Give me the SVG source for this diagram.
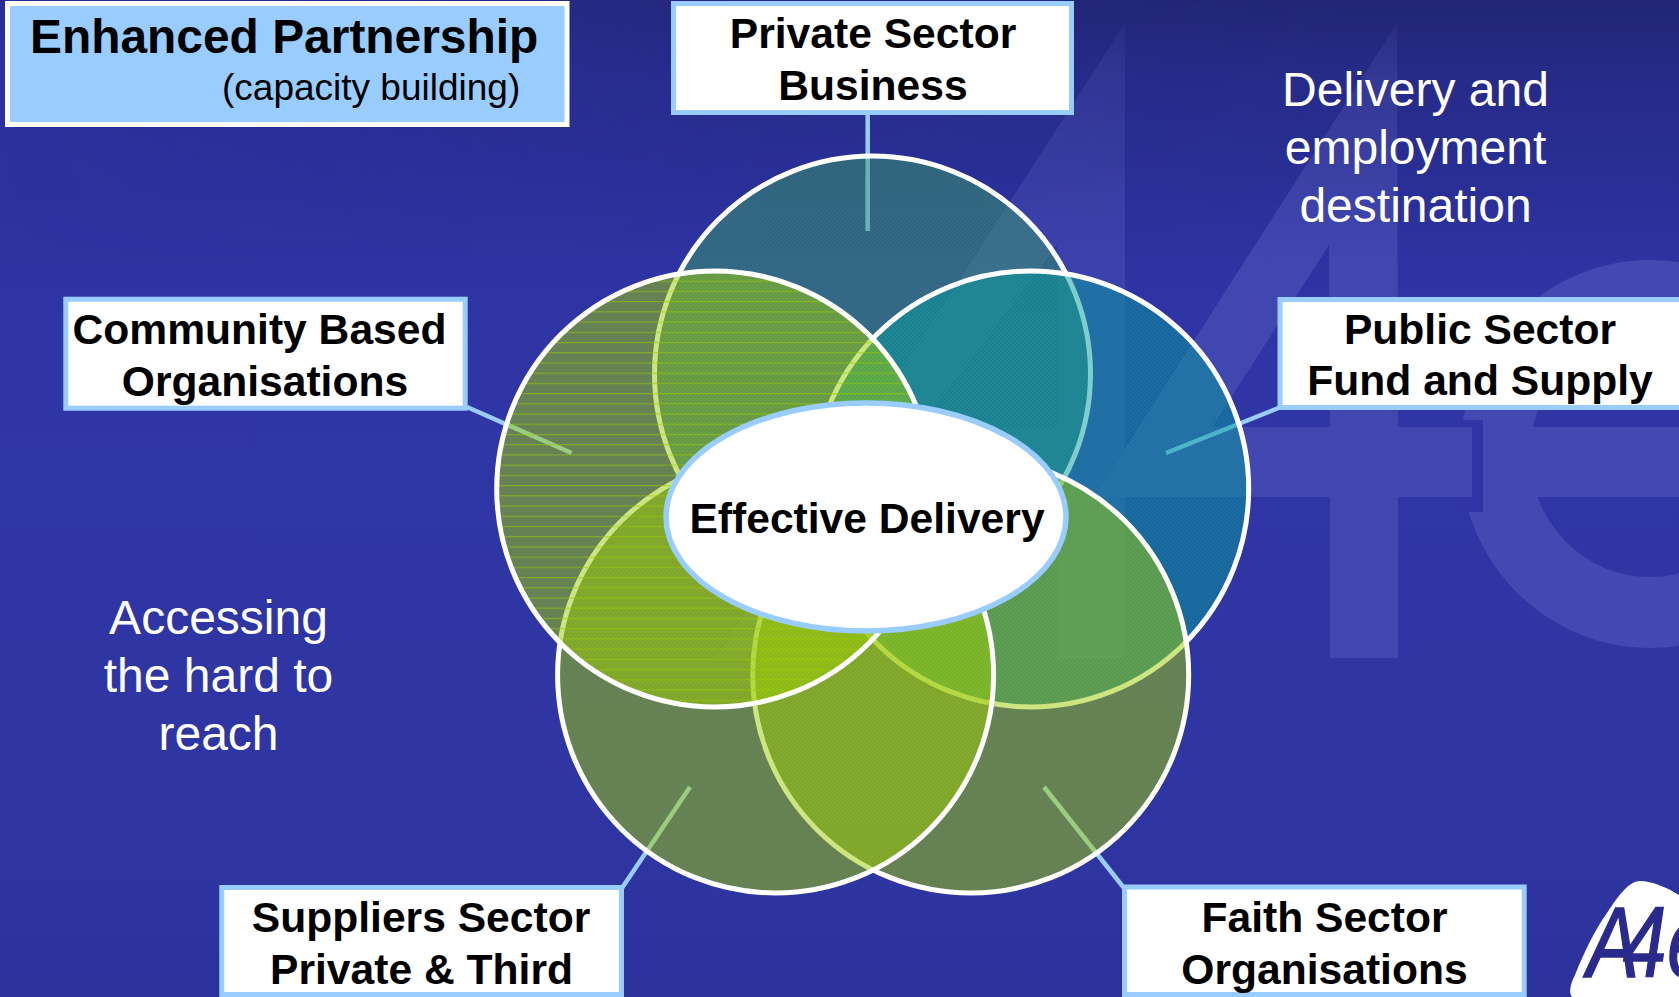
<svg xmlns="http://www.w3.org/2000/svg" width="1679" height="997" viewBox="0 0 1679 997">
<style>
text{font-family:"Liberation Sans",Arial,sans-serif}
.lb{font-size:42.6px;font-weight:700;fill:#000;text-anchor:middle}
.w{font-size:48px;fill:#fff;text-anchor:middle}
.box{fill:#fff;stroke:#99ccff;stroke-width:5}
.c{stroke:#fff;stroke-width:5}
.wm{fill:#4349b2}
#connectors line{stroke:#99ccff;stroke-width:4.5}
</style>
<defs>
<linearGradient id="bg" x1="0" y1="0" x2="0" y2="1">
<stop offset="0" stop-color="#2a2f98"/><stop offset=".12" stop-color="#2b309c"/><stop offset=".35" stop-color="#2f35a5"/><stop offset=".8" stop-color="#2f36a3"/><stop offset="1" stop-color="#2c329c"/>
</linearGradient>
<linearGradient id="dark" x1="0" y1="0" x2="0" y2="1">
<stop offset="0" stop-color="#20246e" stop-opacity=".85"/><stop offset=".3" stop-color="#20246e" stop-opacity=".4"/><stop offset="1" stop-color="#20246e" stop-opacity="0"/>
</linearGradient>
<linearGradient id="fadeX" x1="0" y1="0" x2="1" y2="0">
<stop offset="0" stop-color="#fff" stop-opacity="0"/><stop offset=".45" stop-color="#fff" stop-opacity=".8"/><stop offset=".8" stop-color="#fff"/>
</linearGradient>
<mask id="fm"><rect x="0" y="0" width="1679" height="260" fill="url(#fadeX)"/></mask>
<pattern id="stripes" patternUnits="userSpaceOnUse" x="0" y="382.8" width="20" height="10.22">
<rect width="20" height="10.22" fill="#99cc00" fill-opacity=".5"/>
<rect width="20" height="1.2" fill="#99cc00" fill-opacity=".55"/>
</pattern>
<pattern id="dith" patternUnits="userSpaceOnUse" width="4" height="4">
<rect width="2" height="2" fill="#fff" fill-opacity=".025"/>
<rect x="2" y="2" width="2" height="2" fill="#fff" fill-opacity=".025"/>
</pattern>
<filter id="soft" x="-5%" y="-5%" width="110%" height="110%"><feGaussianBlur stdDeviation=".7"/></filter>
</defs>
<rect width="1679" height="997" fill="url(#bg)"/>
<g id="watermark">
<path class="wm" opacity=".7" fill-rule="evenodd" d="M1125 23V658H1057V497H837L745 658H716ZM1057 245L920 427H1057Z"/>
<path class="wm" fill-rule="evenodd" d="M1650 260A190 194 0 1 0 1650 648A190 194 0 1 0 1650 260ZM1650 331A120 123 0 1 1 1650 577A120 123 0 1 1 1650 331Z"/>
<rect class="wm" x="1483" y="427" width="196" height="70"/>
<rect x="1455" y="420" width="28" height="92" fill="#2f35a4"/>
<path class="wm" opacity=".92" fill-rule="evenodd" d="M1397 23L1398 427H1472V497H1398V658H1330V497H1094ZM1329 245L1212 427H1330Z"/>
</g>
<rect width="1679" height="260" fill="url(#dark)" mask="url(#fm)"/>
<g id="connectors">
<line x1="867.7" y1="113" x2="867.7" y2="231"/>
<line x1="467" y1="407" x2="571.5" y2="453"/>
<line x1="1281" y1="407" x2="1166" y2="453"/>
<line x1="622" y1="888" x2="690" y2="787"/>
<line x1="1124" y1="888" x2="1044" y2="787"/>
</g>
<g id="circle-top"><circle class="c" cx="872.5" cy="374" r="218" fill="#339966" fill-opacity=".5"/><circle cx="872.5" cy="374" r="215" fill="url(#dith)"/></g>
<g id="circle-right"><circle class="c" cx="1030.7" cy="489" r="218" fill="#009999" fill-opacity=".5"/><circle cx="1030.7" cy="489" r="215" fill="url(#dith)"/></g>
<g id="circle-bottom-right"><circle class="c" cx="970.7" cy="675" r="218" fill="#99cc00" fill-opacity=".5"/><circle cx="970.7" cy="675" r="215" fill="url(#dith)"/></g>
<g id="circle-bottom-left"><circle class="c" cx="775.6" cy="675" r="218" fill="#99cc00" fill-opacity=".5"/><circle cx="775.6" cy="675" r="215" fill="url(#dith)"/></g>
<g id="circle-left"><circle class="c" cx="714.7" cy="489" r="218" fill="url(#stripes)"/><circle cx="714.7" cy="489" r="215" fill="url(#dith)"/></g>
<g id="effective-delivery">
<ellipse cx="866" cy="517" rx="200" ry="114" fill="#fff" stroke="#99ccff" stroke-width="5.5"/>
<text class="lb" x="867" y="532.5">Effective Delivery</text>
</g>
<g id="enhanced-partnership">
<rect x="7.5" y="3.5" width="559.5" height="121" fill="#99ccff" stroke="#fff" stroke-width="5"/>
<text x="30" y="52.7" font-size="47.9" font-weight="700" fill="#000">Enhanced Partnership</text>
<text x="222" y="99.5" font-size="37" fill="#000">(capacity building)</text>
</g>
<g id="private-sector">
<rect class="box" x="673.5" y="3.5" width="398" height="109"/>
<text class="lb" x="873" y="48">Private Sector</text>
<text class="lb" x="873" y="100">Business</text>
</g>
<g id="public-sector">
<rect class="box" x="1280" y="299.5" width="402" height="108"/>
<text class="lb" x="1480" y="344">Public Sector</text>
<text class="lb" x="1480" y="395">Fund and Supply</text>
</g>
<g id="community-based">
<rect class="box" x="65.8" y="299.2" width="399.4" height="109"/>
<text class="lb" x="259.5" y="344">Community Based</text>
<text class="lb" x="265" y="395.5">Organisations</text>
</g>
<g id="suppliers-sector">
<rect class="box" x="221.8" y="887.5" width="399.7" height="107"/>
<text class="lb" x="421" y="932">Suppliers Sector</text>
<text class="lb" x="421.5" y="983.7">Private &amp; Third</text>
</g>
<g id="faith-sector">
<rect class="box" x="1124.5" y="887" width="399.7" height="107.5"/>
<text class="lb" x="1324.5" y="932">Faith Sector</text>
<text class="lb" x="1324.5" y="983.7">Organisations</text>
</g>
<g id="delivery-note">
<text class="w" x="1415.5" y="106">Delivery and</text>
<text class="w" x="1415.5" y="164">employment</text>
<text class="w" x="1415.5" y="222">destination</text>
</g>
<g id="access-note">
<text class="w" x="218.5" y="634">Accessing</text>
<text class="w" x="218.5" y="692">the hard to</text>
<text class="w" x="218.5" y="750">reach</text>
</g>
<g id="logo" filter="url(#soft)">
<path fill="#fff" d="M1679 895C1668 888 1652 881 1640 881C1630 881 1620 893 1607 913C1595 930 1585 950 1575 975C1568 988 1570 997 1573 997H1679Z"/>
<text transform="translate(1587 977) scale(.78 1)" x="0 46 103" y="0" font-size="100" font-style="italic" fill="#2a2a8c" stroke="#2a2a8c" stroke-width="1.5">A4e</text>
</g>
</svg>
